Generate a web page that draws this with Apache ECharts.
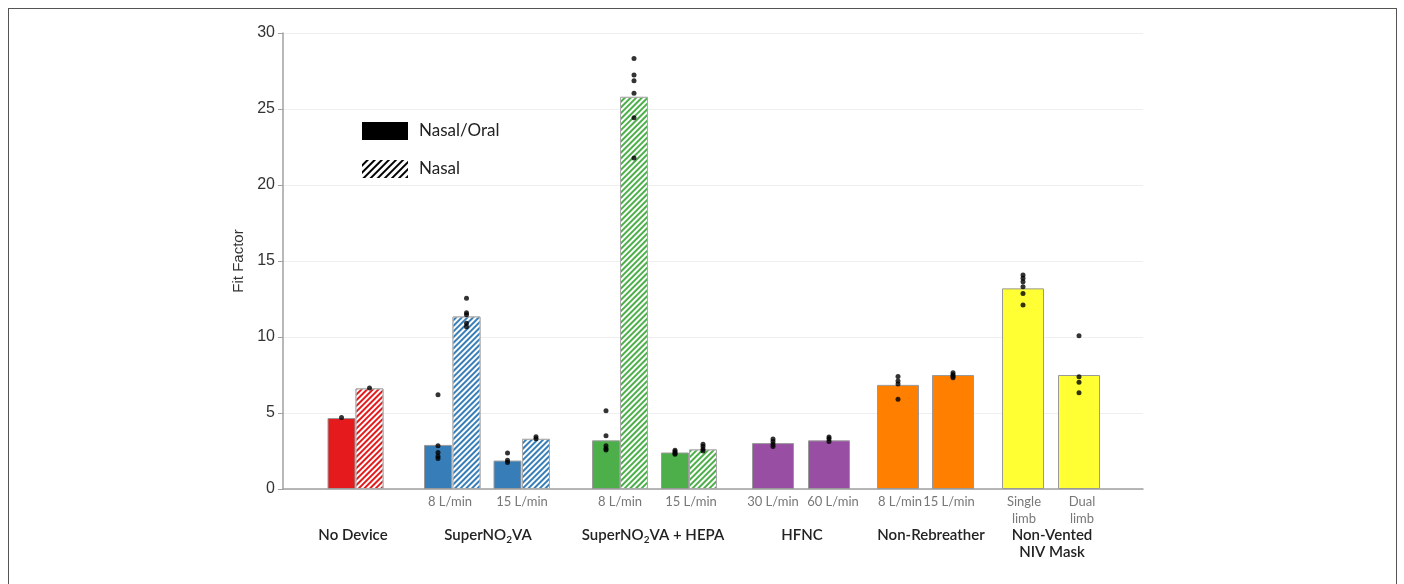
<!DOCTYPE html>
<html>
<head>
<meta charset="utf-8">
<script src="https://cdn.jsdelivr.net/npm/echarts@6/dist/echarts.min.js"></script>
<style>
  html, body { margin: 0; padding: 0; background: #fff; }
  #main { position: absolute; left: 0; top: 0; width: 1404px; height: 584px; }
  #frame { position: absolute; left: 8px; top: 8px; width: 1387px; height: 600px; border: 1px solid #555; pointer-events: none; }
</style>
</head>
<body>
<div id="main"></div>
<div id="frame"></div>
<script>
// x positions on a 0..86 scale (plot width), y = fit factor
var narrowSolidX = [5.85, 15.5, 22.45, 32.3, 39.2];
var narrowSolid = [4.67, 2.9, 1.87, 3.2, 2.4];
var narrowHatchX = [8.65, 18.35, 25.3, 35.1, 42.0];
var narrowHatch = [6.62, 11.35, 3.3, 25.8, 2.6];
var wideX = [49.0, 54.6, 61.5, 67.0, 74.0, 79.6];
var wideVals = [3.02, 3.2, 6.85, 7.5, 13.2, 7.5];

// individual measurements, one list per bar (same order as the bars above)
var narrowSolidDots = [
  [4.7],
  [6.2, 2.85, 2.4, 2.15, 2.0],
  [2.37, 1.89, 1.75],
  [5.15, 3.5, 2.85, 2.67, 2.57],
  [2.55, 2.45, 2.35, 2.28]
];
var narrowHatchDots = [
  [6.64],
  [12.55, 11.6, 11.47, 10.9, 10.68],
  [3.44, 3.3],
  [28.33, 27.24, 26.86, 26.03, 24.43, 21.78],
  [2.95, 2.8, 2.62, 2.5]
];
var wideDots = [
  [3.29, 3.12, 2.95, 2.8],
  [3.42, 3.3, 3.12],
  [7.4, 7.1, 6.9, 5.9],
  [7.65, 7.52, 7.42, 7.32],
  [14.08, 13.86, 13.64, 13.31, 12.87, 12.1],
  [10.09, 7.39, 7.02, 6.34]
];

var subLabelX = [16.7, 23.9, 33.7, 40.8, 49.0, 55.0, 61.7, 66.6, 74.1, 79.9];
var subLabels = ["8 L/min", "15 L/min", "8 L/min", "15 L/min", "30 L/min", "60 L/min",
  "8 L/min", "15 L/min", "Single\nlimb", "Dual\nlimb"];
var groupLabelX = [7.0, 20.5, 37.0, 51.9, 64.8, 76.9];
var groupLabels = ["No Device", "{t|SuperNO}{s|2}{t|VA}", "{t|SuperNO}{s|2}{t|VA + HEPA}",
  "HFNC", "Non-Rebreather", "Non-Vented\nNIV Mask"];

var yTicks = [0, 30, 5];

var narrowColors = ["#e41a1c", "#377eb8", "#377eb8", "#4daf4a", "#4daf4a"];
var wideColors = ["#984ea3", "#984ea3", "#ff7f00", "#ff7f00", "#ffff33", "#ffff33"];

var hatch = {
  symbol: "rect",
  color: "#ffffff",
  dashArrayX: [1, 0],
  dashArrayY: [1.6, 1.6],
  rotation: -Math.PI / 4
};

function bars(xs, vals, colors) {
  return vals.map(function (v, i) {
    return { value: [xs[i], v], itemStyle: { color: colors[i] } };
  });
}
function dots(xs, lists) {
  var out = [];
  lists.forEach(function (l, i) {
    l.forEach(function (v) { out.push([xs[i], v]); });
  });
  return out;
}
function lookup(xs, labels, v) {
  for (var i = 0; i < xs.length; i++) {
    if (Math.abs(xs[i] - v) < 1e-6) return labels[i];
  }
  return "";
}

var font = "Lato, 'Open Sans', sans-serif";
var hiddenAxis = { type: "value", min: 0, max: 86, show: false };

var chart = echarts.init(document.getElementById("main"));
chart.setOption({
  animation: false,
  backgroundColor: "#fff",
  grid: { left: 283, right: 261, top: 33, bottom: 95 },
  legend: {
    data: ["Nasal/Oral", "Nasal"],
    orient: "vertical",
    left: 357,
    top: 117,
    icon: "rect",
    itemWidth: 46,
    itemHeight: 18,
    itemGap: 20,
    textStyle: { fontFamily: font, fontSize: 17, color: "#222", padding: [0, 0, 0, 6] }
  },
  xAxis: [
    {
      type: "value", min: 0, max: 86,
      axisLine: { show: true, lineStyle: { color: "#a0a0a0", width: 1.5 } },
      axisTick: { show: false },
      splitLine: { show: false },
      axisLabel: {
        customValues: subLabelX,
        margin: 4,
        fontFamily: font, fontSize: 13, color: "#777", lineHeight: 17,
        formatter: function (v) { return lookup(subLabelX, subLabels, v); }
      }
    },
    {
      type: "value", min: 0, max: 86, position: "bottom", offset: 0,
      axisLine: { show: false }, axisTick: { show: false }, splitLine: { show: false },
      axisLabel: {
        customValues: groupLabelX,
        margin: 38,
        fontFamily: font, fontSize: 15, fontWeight: 600, color: "#222", lineHeight: 17,
        rich: {
          t: { fontFamily: font, fontSize: 15, fontWeight: 600, color: "#222" },
          s: { fontFamily: font, fontSize: 10, fontWeight: 600, color: "#222", padding: [8, 0, 0, 0] }
        },
        formatter: function (v) { return lookup(groupLabelX, groupLabels, v); }
      }
    },
    hiddenAxis,
    hiddenAxis
  ],
  yAxis: {
    type: "value", min: yTicks[0], max: yTicks[1], interval: yTicks[2],
    name: "Fit Factor", nameLocation: "middle", nameGap: 34,
    nameTextStyle: { fontFamily: "'Liberation Sans', Arial, sans-serif", fontSize: 15, color: "#333" },
    axisLine: { show: true, lineStyle: { color: "#a0a0a0", width: 1.5 } },
    axisTick: { show: true, length: 5, lineStyle: { color: "#a0a0a0" } },
    axisLabel: { fontFamily: "'Liberation Sans', Arial, sans-serif", fontSize: 16, color: "#333", margin: 8 },
    splitLine: { show: true, lineStyle: { color: "#efefef" } }
  },
  series: [
    {
      name: "solid", type: "bar", xAxisIndex: 0, barWidth: 28,
      itemStyle: { borderColor: "#999", borderWidth: 1 },
      data: bars(narrowSolidX, narrowSolid, narrowColors)
    },
    {
      name: "hatched", type: "bar", xAxisIndex: 1, barWidth: 28,
      itemStyle: { borderColor: "#aaa", borderWidth: 1, decal: hatch },
      data: bars(narrowHatchX, narrowHatch, narrowColors)
    },
    {
      name: "wide", type: "bar", xAxisIndex: 2, barWidth: 42,
      itemStyle: { borderColor: "#999", borderWidth: 1 },
      data: bars(wideX, wideVals, wideColors)
    },
    {
      name: "dots", type: "scatter", xAxisIndex: 0, symbolSize: 5, z: 10,
      itemStyle: { color: "#000" },
      data: dots(narrowSolidX, narrowSolidDots)
        .concat(dots(narrowHatchX, narrowHatchDots))
        .concat(dots(wideX, wideDots))
    },
    {
      name: "Nasal/Oral", type: "bar", xAxisIndex: 3, data: [],
      itemStyle: { color: "#000" }
    },
    {
      name: "Nasal", type: "bar", xAxisIndex: 3, data: [],
      itemStyle: { color: "#000", decal: { symbol: "rect", color: "#fff", dashArrayX: [1, 0], dashArrayY: [2.5, 2], rotation: -Math.PI / 4 } }
    }
  ]
});
</script>
</body>
</html>
